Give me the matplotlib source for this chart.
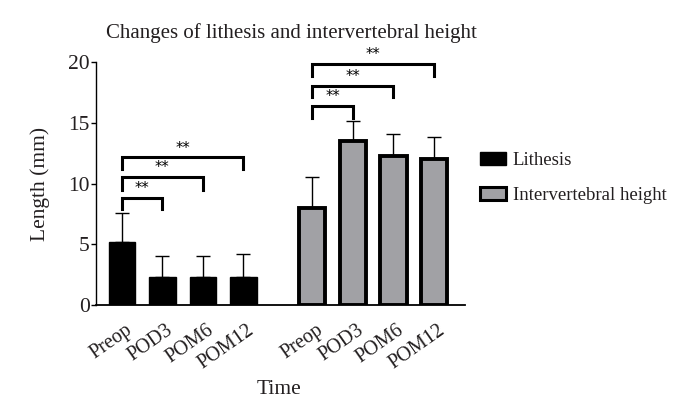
import numpy as np
import matplotlib
matplotlib.use('Agg')
import matplotlib.pyplot as plt
import matplotlib.transforms as mtransforms
from matplotlib.patches import Patch

# Data
timepoints = ['Preop', 'POD3', 'POM6', 'POM12']
lithesis_mean = [5.2, 2.33, 2.28, 2.33]
lithesis_sd = [2.36, 1.70, 1.75, 1.89]
height_mean = [8.0, 13.5, 12.3, 12.0]
height_sd = [2.56, 1.64, 1.75, 1.83]

# significance brackets: (from index, to index, bar y, leg bottom y)
lith_brackets = [(0, 1, 8.8, 7.9), (0, 2, 10.55, 9.5), (0, 3, 12.15, 11.2)]
height_brackets = [(0, 1, 16.4, 15.4), (0, 2, 18.05, 17.1), (0, 3, 19.8, 18.8)]

plt.rcParams['font.family'] = ['Liberation Serif', 'DejaVu Serif']
text_color = '#231f20'

fig = plt.figure(figsize=(6.85, 4.18), dpi=100)
ax = fig.add_axes([0.140, 0.270, 0.539, 0.582])

x_lith = np.arange(4)
x_height = np.arange(4) + 4.7
width = 0.65

ax.bar(x_lith, lithesis_mean, width=width, color='black', edgecolor='black',
       linewidth=1, zorder=2)
ax.errorbar(x_lith, lithesis_mean, yerr=[np.zeros(4), lithesis_sd], fmt='none',
            ecolor='black', elinewidth=1, capsize=4.7, capthick=1, zorder=1)
ax.bar(x_height, height_mean, width=width, color='#a1a1a5', edgecolor='black',
       linewidth=2.8, zorder=2)
ax.errorbar(x_height, height_mean, yerr=[np.zeros(4), height_sd], fmt='none',
            ecolor='black', elinewidth=1, capsize=4.7, capthick=1, zorder=1)

def bracket(xs, i, j, y, y0):
    ax.plot([xs[i], xs[i], xs[j], xs[j]], [y0, y, y, y0], color='black',
            lw=2.2, solid_joinstyle='miter', clip_on=False, zorder=3)
    ax.text((xs[i] + xs[j]) / 2, y + 0.15, '**', ha='center', va='bottom',
            fontsize=10.5, color='black', family='DejaVu Sans', clip_on=False)

for i, j, y, y0 in lith_brackets:
    bracket(x_lith, i, j, y, y0)
for i, j, y, y0 in height_brackets:
    bracket(x_height, i, j, y, y0)

ax.set_xlim(-0.64, 8.47)
ax.set_ylim(0, 20)
ax.set_yticks([0, 5, 10, 15, 20])
ax.spines['top'].set_visible(False)
ax.spines['right'].set_visible(False)
ax.spines['left'].set_linewidth(1)
ax.spines['bottom'].set_linewidth(1.3)
ax.tick_params(axis='y', direction='out', length=3.5, width=1, labelsize=15.5,
               pad=1, colors='black', labelcolor=text_color)
ax.tick_params(axis='x', length=0, labelsize=14.5, labelcolor=text_color, pad=17)

ax.set_xticks(np.concatenate([x_lith, x_height]))
ax.set_xticklabels(timepoints + timepoints, rotation=35, ha='right', va='center',
                   rotation_mode='anchor')
offset = mtransforms.ScaledTranslation(9 / 100, 0, fig.dpi_scale_trans)
for lbl in ax.get_xticklabels():
    lbl.set_transform(lbl.get_transform() + offset)

ax.set_ylabel('Length (mm)', fontsize=15.5, color=text_color, labelpad=13)
fig.text(0.407, 0.067, 'Time', ha='center', va='center', fontsize=15.5, color=text_color)
fig.text(0.425, 0.922, 'Changes of lithesis and intervertebral height', ha='center',
         va='center', fontsize=15, color=text_color)

handles = [Patch(facecolor='black', edgecolor='black', linewidth=1),
           Patch(facecolor='#a1a1a5', edgecolor='black', linewidth=2.2)]
fig.legend(handles, ['Lithesis', 'Intervertebral height'], loc='center left',
           bbox_to_anchor=(0.676, 0.574), frameon=False, fontsize=13.5,
           handlelength=1.4, handleheight=0.7, handletextpad=0.35, labelspacing=0.95,
           labelcolor=text_color)

fig.savefig('out.png', dpi=100)
